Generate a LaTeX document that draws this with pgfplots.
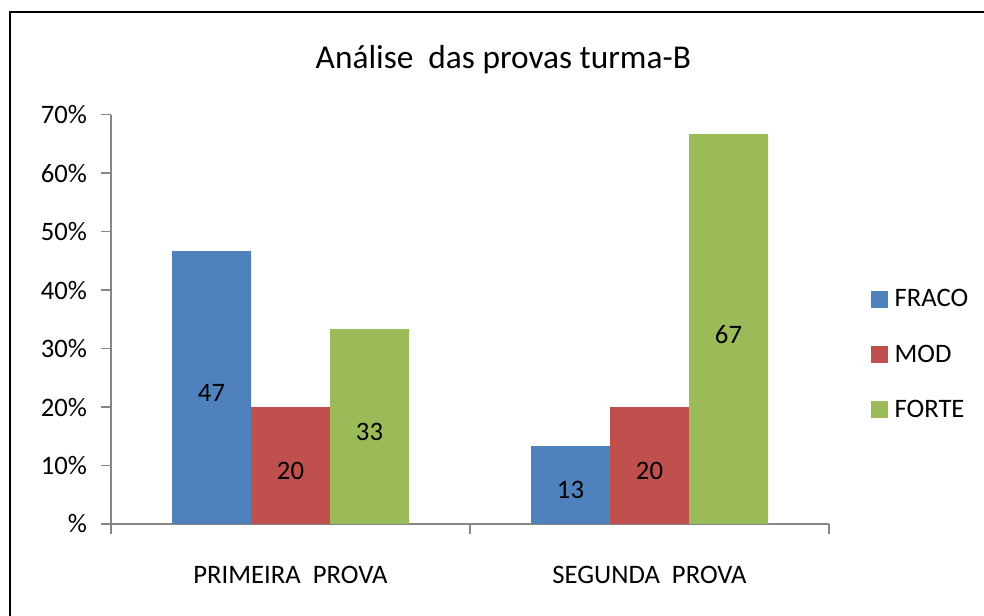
\documentclass[border=0pt]{standalone}
\usepackage{pgfplots}
\pgfplotsset{compat=1.18}
\usepackage{fontspec}
\setmainfont{Carlito}
\definecolor{cblue}{HTML}{4F81BD}
\definecolor{cred}{HTML}{C0504D}
\definecolor{cgreen}{HTML}{9BBB59}
\definecolor{axgray}{HTML}{868686}
\begin{document}
\begin{tikzpicture}
\path[use as bounding box] (0,0) rectangle (738pt,462pt);
\draw[line width=1.5pt] (7.5pt,0) -- (7.5pt,453pt) -- (738pt,453pt);
\node[font=\fontsize{25}{30}\selectfont] at (377.5pt,417pt) {Análise\ \ das provas turma-B};
\begin{axis}[
  at={(83.25pt,69pt)}, anchor=south west,
  scale only axis, width=538.5pt, height=307pt,
  xmin=-0.5, xmax=1.5, ymin=0, ymax=70,
  axis x line*=bottom, axis y line*=left,
  axis line style={axgray, line width=1pt},
  every tick/.style={axgray, line width=1pt},
  tick align=outside,
  xtick={-0.5,0.5,1.5}, xticklabels={},
  major tick length=7.5pt,
  extra x ticks={0,1},
  extra x tick labels={PRIMEIRA\ \ PROVA, SEGUNDA\ \ PROVA},
  extra x tick style={major tick length=0pt, xticklabel style={yshift=-28pt}},
  ytick={0,10,...,70},
  yticklabels={\%,10\%,20\%,30\%,40\%,50\%,60\%,70\%},
  y tick label style={xshift=-7pt},
  ticklabel style={font=\fontsize{20}{24}\selectfont},
  /pgf/number format/assume math mode=true,
  ybar=0pt, bar width=59.25pt,
  nodes near coords,
  point meta=explicit symbolic,
  visualization depends on=y \as \rawy,
  every node near coord/.append style={anchor=center, black, font=\fontsize{20}{24}\selectfont, shift={(axis direction cs:0,-\rawy/2)}, yshift=-4pt},
  legend style={at={(1.052,0.414)}, anchor=west, draw=none, fill=none, font=\fontsize{20}{24}\selectfont, row sep=23pt},
  legend cell align=left,
  legend image code/.code={\fill[#1] (0pt,-6.4pt) rectangle (12.8pt,6.4pt); \path (16pt,0pt);},
]
\addplot[fill=cblue, draw=none] coordinates {(0,46.67) [47] (1,13.33) [13]};
\addplot[fill=cred, draw=none] coordinates {(0,20) [20] (1,20) [20]};
\addplot[fill=cgreen, draw=none] coordinates {(0,33.33) [33] (1,66.67) [67]};
\legend{FRACO, MOD, FORTE}
\end{axis}
\end{tikzpicture}
\end{document}
